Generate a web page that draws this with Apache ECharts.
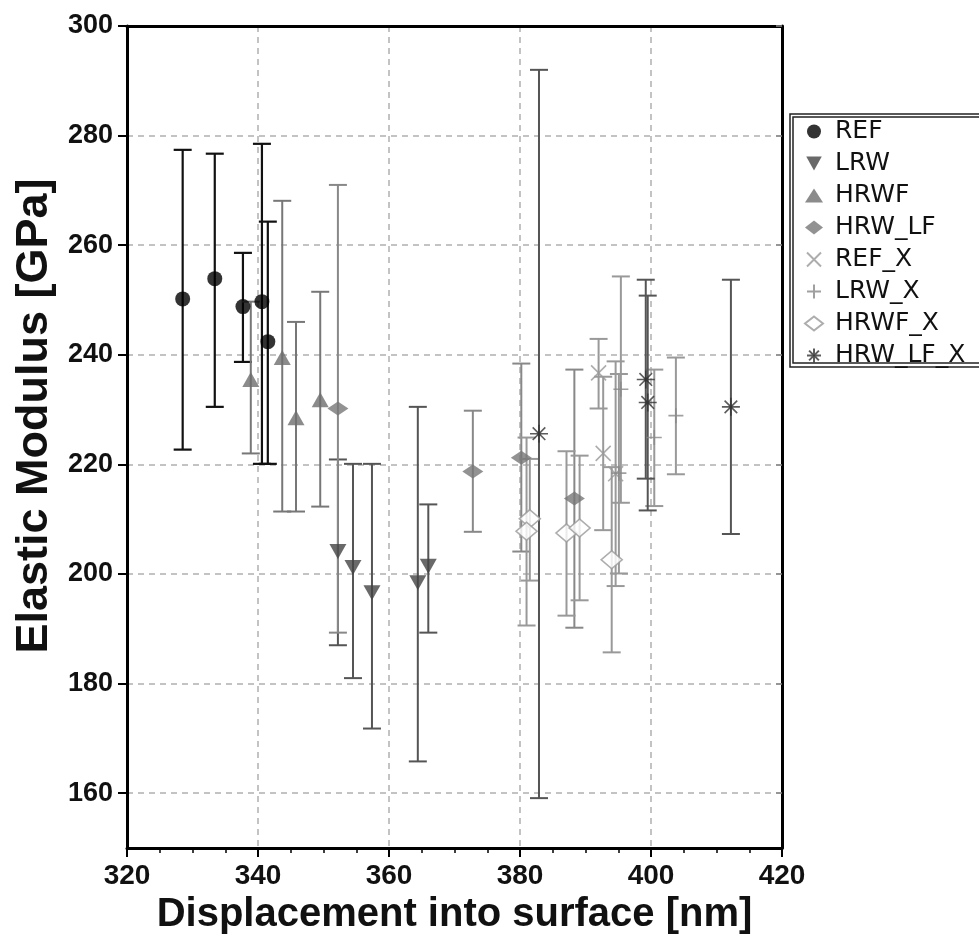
<!DOCTYPE html>
<html>
<head>
<meta charset="utf-8">
<script src="https://cdn.jsdelivr.net/npm/echarts@6/dist/echarts.min.js"></script>
<style>
  html, body { margin: 0; padding: 0; background: #fff; }
  #chart { width: 979px; height: 942px; }
</style>
</head>
<body>
<div id="chart"></div>
<script>
// each point: [displacement nm, modulus GPa, bar top, bar bottom]
const REF = [[328.5, 250.2, 277.4, 222.7], [333.4, 253.9, 276.7, 230.5], [337.7, 248.8, 258.6, 238.7],
             [340.6, 249.7, 278.5, 220.1], [341.5, 242.4, 264.3, 220.1]];
const LRW = [[352.2, 204.1, 220.9, 187.0], [354.5, 201.2, 220.1, 181.0], [357.4, 196.6, 220.1, 171.8],
             [364.4, 198.4, 230.5, 165.8], [366.0, 201.4, 212.7, 189.3]];
const HRWF = [[338.9, 235.5, 249.7, 222.0], [343.7, 239.5, 268.1, 211.4], [345.8, 228.5, 246.0, 211.4],
              [349.5, 231.8, 251.5, 212.3]];
const HRW_LF = [[352.2, 230.2, 271.0, 189.3], [372.8, 218.7, 229.8, 207.7], [380.2, 221.2, 238.4, 204.1],
                [388.3, 213.8, 237.3, 190.2]];
const REF_X = [[392.0, 236.7, 242.9, 230.2], [392.7, 222.0, 236.0, 208.0], [394.6, 218.3, 238.8, 197.8]];
const LRW_X = [[395.1, 218.4, 236.5, 200.1], [395.4, 233.7, 254.3, 213.0], [400.5, 224.9, 237.3, 212.4],
               [403.8, 228.9, 239.5, 218.2]];
const HRWF_X = [[381.5, 210.1, 221.0, 198.8], [381.0, 207.8, 224.9, 190.6], [387.1, 207.5, 222.4, 192.4],
                [389.1, 208.4, 221.6, 195.2], [394.0, 202.6, 219.5, 185.7]];
const HRW_LF_X = [[382.9, 225.6, 292.0, 159.1], [399.2, 235.5, 253.7, 217.4], [399.5, 231.3, 250.8, 211.6],
                  [412.2, 230.5, 253.7, 207.3]];

const yTicks = [160, 180, 200, 220, 240, 260, 280, 300];

const SYM_DOWN = 'path://M0,0L10,0L5,9Z';
const SYM_X = 'path://M0,0L10,10M10,0L0,10';
const SYM_PLUS = 'path://M5,0L5,10M0,5L10,5';
const SYM_STAR = 'path://M5,0L5,10M0,5L10,5M1.5,1.5L8.5,8.5M8.5,1.5L1.5,8.5M4.2,4.2L5.8,4.2L5.8,5.8L4.2,5.8Z';

const groups = [
  {name: 'REF', data: REF, symbol: 'circle', size: 15, color: '#000', bar: '#111', bw: 2.2},
  {name: 'LRW', data: LRW, symbol: SYM_DOWN, size: [17, 15], color: '#444', bar: '#555', bw: 2},
  {name: 'HRWF', data: HRWF, symbol: 'triangle', size: [17, 15], color: '#6e6e6e', bar: '#777', bw: 2},
  {name: 'HRW_LF', data: HRW_LF, symbol: 'diamond', size: [21, 14], color: '#777', bar: '#888', bw: 2},
  {name: 'REF_X', data: REF_X, symbol: SYM_X, size: 15, color: '#999', line: true, bar: '#999', bw: 2},
  {name: 'LRW_X', data: LRW_X, symbol: SYM_PLUS, size: 15, color: '#888', line: true, bar: '#999', bw: 2},
  {name: 'HRWF_X', data: HRWF_X, symbol: 'diamond', size: [21, 18], color: '#999', hollow: true, bar: '#999', bw: 2},
  {name: 'HRW_LF_X', data: HRW_LF_X, symbol: SYM_STAR, size: 18, color: '#333', line: true, bar: '#555', bw: 2}
];

function errorBars(color, width) {
  return function (params, api) {
    const x = api.value(0);
    const hi = api.coord([x, api.value(2)]);
    const lo = api.coord([x, api.value(3)]);
    const w = 9;
    const style = {stroke: color, lineWidth: width};
    return {
      type: 'group',
      children: [
        {type: 'line', shape: {x1: hi[0], y1: hi[1], x2: lo[0], y2: lo[1]}, style: style},
        {type: 'line', shape: {x1: hi[0] - w, y1: hi[1], x2: hi[0] + w, y2: hi[1]}, style: style},
        {type: 'line', shape: {x1: lo[0] - w, y1: lo[1], x2: lo[0] + w, y2: lo[1]}, style: style}
      ]
    };
  };
}

const series = [];
groups.forEach(function (g) {
  series.push({
    name: g.name + ' bars',
    type: 'custom',
    renderItem: errorBars(g.bar, g.bw),
    encode: {x: 0, y: [2, 3]},
    data: g.data,
    z: 2,
    silent: true
  });
});
groups.forEach(function (g) {
  let style;
  if (g.line) style = {color: g.color, borderColor: g.color, borderWidth: 1.6};
  else if (g.hollow) style = {color: '#fff', borderColor: g.color, borderWidth: 1.6};
  else style = {color: g.color};
  series.push({
    name: g.name,
    type: 'scatter',
    symbol: g.symbol,
    symbolSize: g.size,
    itemStyle: style,
    encode: {x: 0, y: 1},
    data: g.data,
    z: 5
  });
});

const chart = echarts.init(document.getElementById('chart'));
const frame = {show: true, lineStyle: {color: '#000', width: 3}};
const grid = {show: true, lineStyle: {color: '#b0b0b0', width: 1.5, type: [6, 5]}};

chart.setOption({
  animation: false,
  grid: {left: 127, top: 26, width: 655, height: 822},
  legend: {
    data: groups.map(function (g) { return g.name; }),
    orient: 'vertical',
    left: 804,
    top: 119,
    padding: 0,
    itemWidth: 18,
    itemHeight: 14,
    itemGap: 7,
    selectedMode: false,
    textStyle: {fontFamily: 'DejaVu Sans', fontSize: 25, lineHeight: 25, color: '#111', padding: [0, 0, 0, 7]}
  },
  graphic: [
    {type: 'rect', shape: {x: 790, y: 114, width: 230, height: 253}, style: {fill: null, stroke: '#222', lineWidth: 1.5}},
    {type: 'rect', shape: {x: 793, y: 117, width: 230, height: 246}, style: {fill: null, stroke: '#222', lineWidth: 1.5}}
  ],
  xAxis: [{
    type: 'value',
    min: 320,
    max: 420,
    interval: 20,
    name: 'Displacement into surface [nm]',
    nameLocation: 'middle',
    nameGap: 46,
    nameTextStyle: {fontFamily: 'Liberation Sans', fontWeight: 'bold', fontSize: 40, color: '#111'},
    axisLine: frame,
    axisTick: {show: true, length: 9, lineStyle: {color: '#000', width: 2}},
    minorTick: {show: true, splitNumber: 4, length: 5, lineStyle: {color: '#000', width: 1.5}},
    axisLabel: {fontFamily: 'Liberation Sans', fontWeight: 'bold', fontSize: 28, color: '#111', margin: 14},
    splitLine: grid
  }, {
    type: 'value',
    position: 'top',
    min: 320,
    max: 420,
    interval: 20,
    axisLine: frame,
    axisTick: {show: false},
    axisLabel: {show: false},
    splitLine: {show: false}
  }],
  yAxis: [{
    type: 'value',
    min: 150,
    max: 300,
    name: 'Elastic Modulus [GPa]',
    nameLocation: 'middle',
    nameGap: 70,
    nameTextStyle: {fontFamily: 'Liberation Sans', fontWeight: 'bold', fontSize: 45, color: '#111', padding: [0, 0, 0, 42]},
    axisLine: frame,
    axisTick: {show: true, length: 9, customValues: yTicks, lineStyle: {color: '#000', width: 2}},
    axisLabel: {fontFamily: 'Liberation Sans', fontWeight: 'bold', fontSize: 27, color: '#111', margin: 14, customValues: yTicks},
    splitLine: grid
  }, {
    type: 'value',
    position: 'right',
    min: 150,
    max: 300,
    axisLine: frame,
    axisTick: {show: true, inside: true, length: 6, customValues: yTicks, lineStyle: {color: '#888', width: 1.5}},
    axisLabel: {show: false},
    splitLine: {show: false}
  }],
  series: series
});
</script>
</body>
</html>
